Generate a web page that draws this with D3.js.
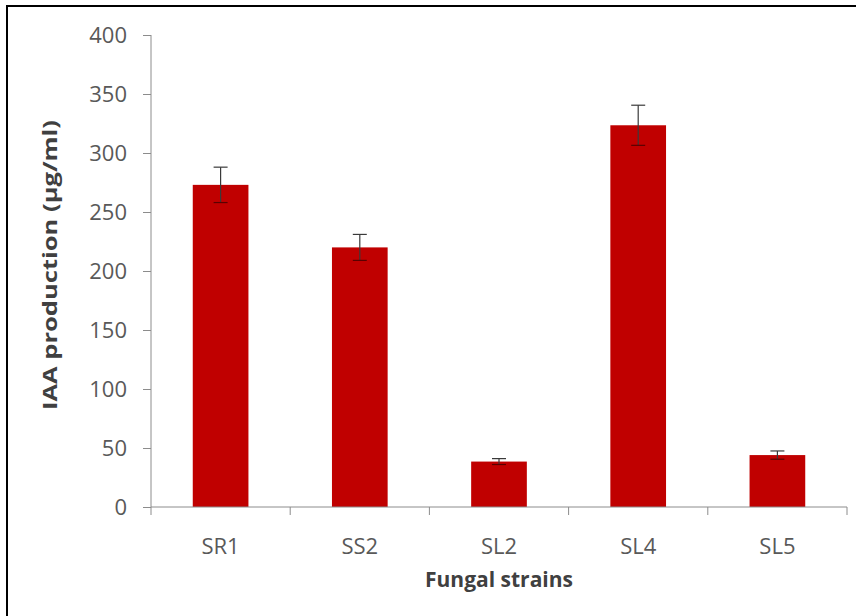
<!DOCTYPE html>
<html>
<head>
<meta charset="utf-8">
<script src="https://cdn.jsdelivr.net/npm/d3@7"></script>
<style>
  body { margin: 0; background: #fff; }
  svg { display: block; }
</style>
</head>
<body>
<div id="chart"></div>
<script>
// Data
const strains = ['SR1', 'SS2', 'SL2', 'SL4', 'SL5'];
const iaaValues = [273, 220, 38.5, 323.5, 44];
const iaaErrors = [15, 11, 2.5, 17, 3.5];
const yTicks = [0, 50, 100, 150, 200, 250, 300, 350, 400];

const svgWidth = 856;
const svgHeight = 616;

const svg = d3.select('#chart')
    .append('svg')
    .attr('width', svgWidth)
    .attr('height', svgHeight);

// outer frame (only top and left edges show in the picture)
svg.append('path')
    .attr('d', 'M7,616 L7,6 L856,6')
    .attr('fill', 'none')
    .attr('stroke', '#000')
    .attr('stroke-width', 2);

// plot area
const plotLeft = 151, plotRight = 847, plotTop = 35, plotBottom = 507;

const xScale = d3.scaleBand()
    .domain(strains)
    .range([plotLeft, plotRight])
    .paddingInner(0.6)
    .paddingOuter(0.3);

const yScale = d3.scaleLinear()
    .domain([0, 400])
    .range([plotBottom, plotTop]);

const axisColor = '#8c8c8c';
const labelColor = '#595959';
const font = "'Open Sans', 'Liberation Sans', sans-serif";

// Y axis
const yAxis = d3.axisLeft(yScale)
    .tickValues(yTicks)
    .tickSize(8)
    .tickPadding(16);

const gy = svg.append('g')
    .attr('transform', 'translate(' + plotLeft + ',0)')
    .call(yAxis);
gy.select('.domain').attr('stroke', axisColor).attr('d', 'M0,' + plotTop + 'V' + plotBottom);
gy.selectAll('.tick line').attr('stroke', axisColor);
gy.selectAll('.tick text')
    .attr('fill', labelColor)
    .style('font-family', font)
    .style('font-size', '22px');

// Bars
svg.append('g')
    .selectAll('rect')
    .data(strains)
    .join('rect')
    .attr('x', d => xScale(d))
    .attr('y', (d, i) => yScale(iaaValues[i]))
    .attr('width', xScale.bandwidth())
    .attr('height', (d, i) => yScale(0) - yScale(iaaValues[i]))
    .attr('fill', '#c00000');

// Error bars
const capHalf = 7;
const errG = svg.append('g')
    .attr('stroke', '#3a3a3a')
    .attr('stroke-width', 1.2);

strains.forEach((s, i) => {
    const cx = xScale(s) + xScale.bandwidth() / 2;
    const hi = yScale(iaaValues[i] + iaaErrors[i]);
    const lo = yScale(iaaValues[i] - iaaErrors[i]);
    errG.append('line').attr('x1', cx).attr('x2', cx).attr('y1', hi).attr('y2', lo);
    errG.append('line').attr('x1', cx - capHalf).attr('x2', cx + capHalf).attr('y1', hi).attr('y2', hi);
    errG.append('line').attr('x1', cx - capHalf).attr('x2', cx + capHalf).attr('y1', lo).attr('y2', lo)
        .attr('stroke', '#5a0000');
});

// X axis: line with ticks at category boundaries
const gx = svg.append('g');
gx.append('line')
    .attr('x1', plotLeft).attr('x2', plotRight)
    .attr('y1', plotBottom).attr('y2', plotBottom)
    .attr('stroke', axisColor);

const step = xScale.step();
const edges = d3.range(strains.length + 1).map(k => plotLeft + k * step);
gx.selectAll('.xtick')
    .data(edges)
    .join('line')
    .attr('class', 'xtick')
    .attr('x1', d => d).attr('x2', d => d)
    .attr('y1', plotBottom).attr('y2', plotBottom + 8)
    .attr('stroke', axisColor);

gx.selectAll('.xlabel')
    .data(strains)
    .join('text')
    .attr('class', 'xlabel')
    .attr('x', d => xScale(d) + xScale.bandwidth() / 2)
    .attr('y', 554)
    .attr('text-anchor', 'middle')
    .attr('fill', labelColor)
    .style('font-family', font)
    .style('font-size', '22px')
    .text(d => d);

// Titles
svg.append('text')
    .attr('x', (plotLeft + plotRight) / 2)
    .attr('y', 587)
    .attr('text-anchor', 'middle')
    .attr('fill', '#404040')
    .style('font-family', font)
    .style('font-size', '21px')
    .style('font-weight', 'bold')
    .text('Fungal strains');

svg.append('text')
    .attr('transform', 'rotate(-90)')
    .attr('x', -265)
    .attr('y', 57)
    .attr('text-anchor', 'middle')
    .attr('textLength', 290)
    .attr('lengthAdjust', 'spacingAndGlyphs')
    .attr('fill', '#404040')
    .style('font-family', font)
    .style('font-size', '19px')
    .style('font-weight', 'bold')
    .text('IAA production (µg/ml)');
</script>
</body>
</html>
